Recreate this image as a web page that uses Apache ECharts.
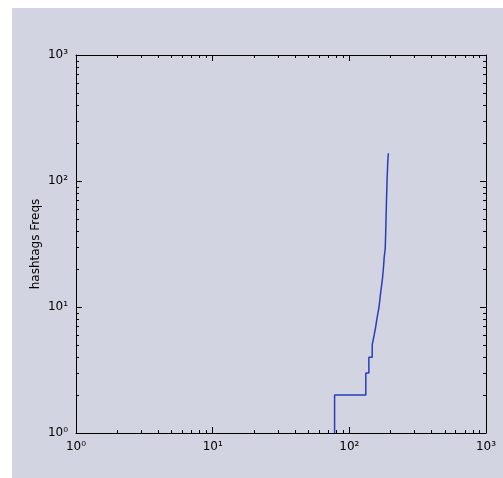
<!DOCTYPE html>
<html lang="en">
<head>
    <meta charset="UTF-8">
    <script src="https://cdn.jsdelivr.net/npm/echarts@6/dist/echarts.min.js"></script>
    <title>hashtags Freqs</title>
    <style>
        body { margin: 0; background: #fff; }
        #main { position: absolute; left: 12px; top: 8px; width: 491px; height: 470px; }
    </style>
</head>
<body>
    <div id="main"></div>
    <script>
        // step points: [x, freq]
        var stepX = [78, 78, 132, 139, 147, 152, 156, 159, 162, 165, 168, 171, 175, 178, 180, 183, 184, 185, 186, 187, 188, 189, 190, 191, 193];
        var stepY = [1, 2, 3, 4, 5, 6, 7, 8, 9, 10, 12, 14, 17, 21, 25, 29, 35, 43, 55, 70, 85, 105, 120, 140, 166];
        var tickLabels = { 1: '10\u2070', 10: '10\u00b9', 100: '10\u00b2', 1000: '10\u00b3' };

        var data = stepX.map(function (x, i) { return [x, stepY[i]]; });

        var chart = echarts.init(document.getElementById('main'));
        var lbl = {
            color: '#000', fontSize: 12, fontFamily: 'DejaVu Sans',
            formatter: function (v) { return tickLabels[Math.round(v)] || ''; }
        };
        function ax(pos, showLabel, extra) {
            return Object.assign({
                type: 'log', logBase: 10, min: 1, max: 1000, position: pos,
                axisLine: { show: true, onZero: false, lineStyle: { color: '#000', width: 1 } },
                axisTick: { show: true, inside: true, length: 6, lineStyle: { color: '#000' } },
                minorTick: { show: true, splitNumber: 9, length: 3, lineStyle: { color: '#000' } },
                axisLabel: Object.assign({ show: showLabel, margin: 8 }, lbl),
                splitLine: { show: false },
                minorSplitLine: { show: false }
            }, extra || {});
        }
        chart.setOption({
            backgroundColor: '#d2d5e1',
            animation: false,
            grid: { left: 64, top: 47, width: 410, height: 378 },
            xAxis: [ax('bottom', true), ax('top', false)],
            yAxis: [
                ax('left', true, { name: 'hashtags Freqs', nameLocation: 'middle', nameGap: 34, nameRotate: 90,
                    nameMoveOverlap: false,
                    nameTextStyle: { color: '#000', fontSize: 12, fontFamily: 'DejaVu Sans' } }),
                ax('right', false)
            ],
            series: [{
                type: 'line', step: 'end', showSymbol: false,
                lineStyle: { color: '#2a3cbd', width: 1.5 },
                data: data
            }]
        });
    </script>
</body>
</html>
